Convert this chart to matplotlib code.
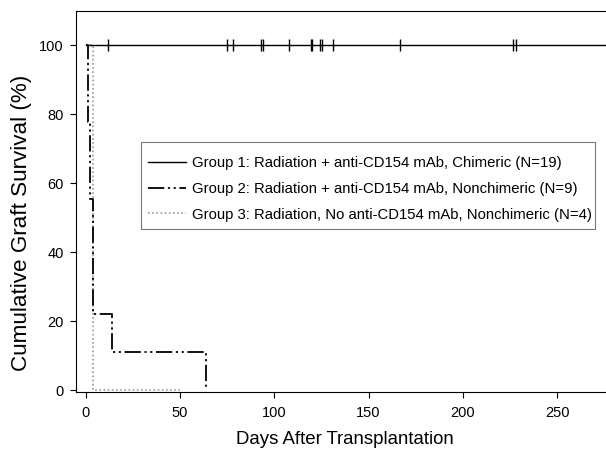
import matplotlib
matplotlib.use('Agg')
import matplotlib.pyplot as plt
from matplotlib.patches import Rectangle

plt.rcParams['font.family'] = ['Liberation Sans', 'DejaVu Sans']

# Kaplan-Meier style data (days, % survival)
g1_days = [0, 276]
g1_surv = [100, 100]
g1_censored = [12, 75, 78, 93, 94, 108, 119.5, 120, 124.5, 125.5, 131, 166.5, 226.5, 228]

g2_days = [0, 1.2, 2.3, 3.7, 13.7, 64]
g2_surv = [100, 77.8, 55.6, 22.2, 11.1, 0]

g3_days = [0, 3.9, 50]
g3_surv = [100, 0, 0]

labels = [
    "Group 1: Radiation + anti-CD154 mAb, Chimeric (N=19)",
    "Group 2: Radiation + anti-CD154 mAb, Nonchimeric (N=9)",
    "Group 3: Radiation, No anti-CD154 mAb, Nonchimeric (N=4)",
]
x_ticks = [0, 50, 100, 150, 200, 250]
y_ticks = [0, 20, 40, 60, 80, 100]

W, H = 606, 449
fig = plt.figure(figsize=(W / 100, H / 100), dpi=100)
ax = fig.add_axes([75.5 / W, 1 - 392 / H, (W - 75.5) / W, (392 - 11) / H])

l1, = ax.step(g1_days, g1_surv, where='post', color='black', lw=1.0, label=labels[0], zorder=3)
ax.plot(g1_censored, [g1_surv[-1]] * len(g1_censored), ls='none', marker='|',
        ms=8, mew=1.0, color='black', zorder=3)
l2, = ax.step(g2_days, g2_surv, where='post', color='black', lw=1.3,
              dashes=(9, 2, 1.2, 2, 1.2, 2), label=labels[1], zorder=3)
l3, = ax.step(g3_days, g3_surv, where='post', color='#9a9a9a', lw=1.2,
              dashes=(1, 1.5), label=labels[2], zorder=2)

ax.set_xlim(-5.5, 276)
ax.set_ylim(-0.5, 110)
ax.set_xticks(x_ticks)
ax.set_yticks(y_ticks)
ax.spines['right'].set_visible(False)
for s in ['left', 'bottom', 'top']:
    ax.spines[s].set_linewidth(0.8)
ax.tick_params(axis='both', direction='out', length=4.3, width=0.8, labelsize=10.5)
ax.tick_params(axis='x', pad=6)
ax.tick_params(axis='y', pad=4.3)

# legend frame (drawn separately so its padding matches the reference)
frame = Rectangle((141 / W, 1 - 229 / H), (595 - 141) / W, (229 - 142) / H,
                  transform=fig.transFigure, facecolor='white', edgecolor='#777777',
                  lw=0.8, zorder=4)
fig.add_artist(frame)

leg = ax.legend(handles=[l1, l2, l3], loc='upper left',
                bbox_to_anchor=(141 / W, 1 - 149 / H), bbox_transform=fig.transFigure,
                borderaxespad=0, fontsize=10.7, handlelength=2.5, handletextpad=0.4,
                labelspacing=0.78, borderpad=0.5, frameon=False)
leg.set_zorder(5)
fig.add_artist(leg)

fig.text(22 / W, 1 - 223 / H, "Cumulative Graft Survival (%)", rotation=90,
         ha='center', va='center', fontsize=16.2)
fig.text(345 / W, 1 - 443.5 / H, "Days After Transplantation", ha='center',
         va='baseline', fontsize=13.4)

fig.savefig('out.png', dpi=100)
